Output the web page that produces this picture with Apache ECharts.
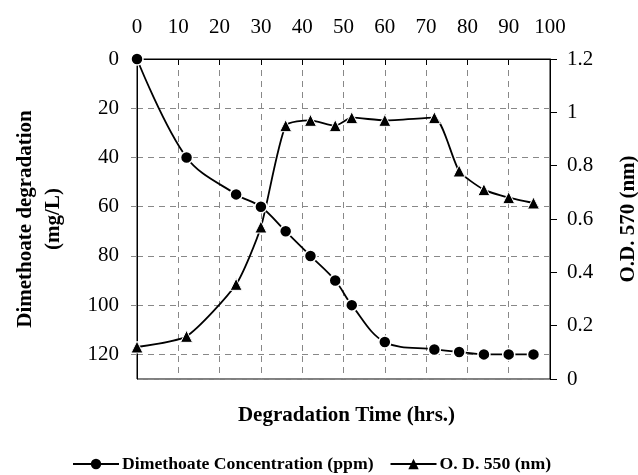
<!DOCTYPE html>
<html><head><meta charset="utf-8">
<script src="https://cdn.jsdelivr.net/npm/echarts@6/dist/echarts.min.js"></script>
<style>html,body{margin:0;padding:0;background:#fff}#c{width:638px;height:475px}</style>
</head><body><div id="c"></div>
<script>
const hours = [0, 12, 24, 30, 36, 42, 48, 52, 60, 72, 78, 84, 90, 96];
const concentration = [0, 40, 55, 60, 70, 80, 90, 100, 115, 118, 119, 120, 120, 120];
const odValues = [0.12, 0.16, 0.355, 0.57, 0.95, 0.97, 0.95, 0.98, 0.97, 0.98, 0.78, 0.71, 0.68, 0.66];
const seriesNames = ['Dimethoate Concentration (ppm)', 'O. D. 550 (nm)'];
const xTitle = 'Degradation Time (hrs.)';
const leftTitle = 'Dimethoate degradation\n(mg/L)';
const rightTitle = 'O.D. 570 (nm)';

const FONT = '"Liberation Serif", "Times New Roman", serif';
const FS = 21;
const chart = echarts.init(document.getElementById('c'), null, {renderer: 'canvas'});
const gridL = 137, gridR = 550, gridT = 59, gridB = 379;
chart.setOption({
  animation: false,
  textStyle: {fontFamily: FONT},
  grid: {left: gridL, right: 638 - gridR, top: gridT, bottom: 475 - gridB,
         containLabel: false, outerBoundsMode: 'none',
         show: true, borderColor: '#000', borderWidth: 1, backgroundColor: 'transparent'},
  xAxis: {
    type: 'value', position: 'top', min: 0, max: 100, interval: 10,
    axisLine: {show: true, lineStyle: {color: '#000', width: 1}},
    axisTick: {show: true, inside: true, length: 6, lineStyle: {color: '#000'}},
    axisLabel: {color: '#000', fontSize: FS, fontFamily: FONT, margin: 21},
    splitLine: {show: true, lineStyle: {color: '#888', type: [6, 5], width: 1}}
  },
  yAxis: [{
    type: 'value', inverse: true, min: 0, max: 130, interval: 20, position: 'left',
    axisLine: {show: true, lineStyle: {color: '#000', width: 1}},
    axisTick: {show: true, length: 6, lineStyle: {color: '#888'}},
    axisLabel: {color: '#000', fontSize: FS, fontFamily: FONT, margin: 18, showMaxLabel: false},
    splitLine: {show: true, lineStyle: {color: '#888', type: [6, 5], width: 1}},
    name: leftTitle, nameLocation: 'middle', nameRotate: 90, nameGap: 69,
    nameTextStyle: {color: '#000', fontSize: FS, fontWeight: 'bold', fontFamily: FONT, lineHeight: 28}
  }, {
    type: 'value', min: 0, max: 1.2, interval: 0.2, position: 'right',
    axisLine: {show: true, lineStyle: {color: '#000', width: 1}},
    axisTick: {show: true, length: 7, lineStyle: {color: '#000'}},
    axisLabel: {color: '#000', fontSize: FS, fontFamily: FONT, margin: 17,
                formatter: v => String(Math.round(v * 10) / 10)},
    splitLine: {show: false},
    name: rightTitle, nameLocation: 'middle', nameRotate: 90, nameGap: 68,
    nameTextStyle: {color: '#000', fontSize: FS, fontWeight: 'bold', fontFamily: FONT}
  }],
  legend: {
    top: 450, left: 67, itemGap: 16, itemWidth: 46, itemHeight: 13,
    itemStyle: {borderWidth: 0},
    textStyle: {color: '#000', fontSize: 17.7, fontWeight: 'bold', fontFamily: FONT, padding: [0, 0, 0, -2]},
    data: seriesNames
  },
  graphic: [{
    type: 'text', x: (gridL + gridR) / 2 + 3, y: 416,
    style: {text: xTitle, fill: '#000', font: 'bold ' + FS + 'px ' + FONT,
            align: 'center', verticalAlign: 'middle'}
  }],
  series: [{
    name: seriesNames[0], type: 'line', yAxisIndex: 0, smooth: 0.35,
    data: hours.map((h, i) => [h, concentration[i]]),
    symbol: 'circle', symbolSize: 12,
    lineStyle: {color: '#000', width: 1.8},
    itemStyle: {color: '#000', borderColor: '#fff', borderWidth: 1.5},
    z: 3
  }, {
    name: seriesNames[1], type: 'line', yAxisIndex: 1, smooth: 0.2,
    data: hours.map((h, i) => [h, odValues[i]]),
    symbol: 'triangle', symbolSize: 12,
    lineStyle: {color: '#000', width: 1.8},
    itemStyle: {color: '#000', borderColor: '#fff', borderWidth: 1},
    z: 3
  }]
});
</script></body></html>
